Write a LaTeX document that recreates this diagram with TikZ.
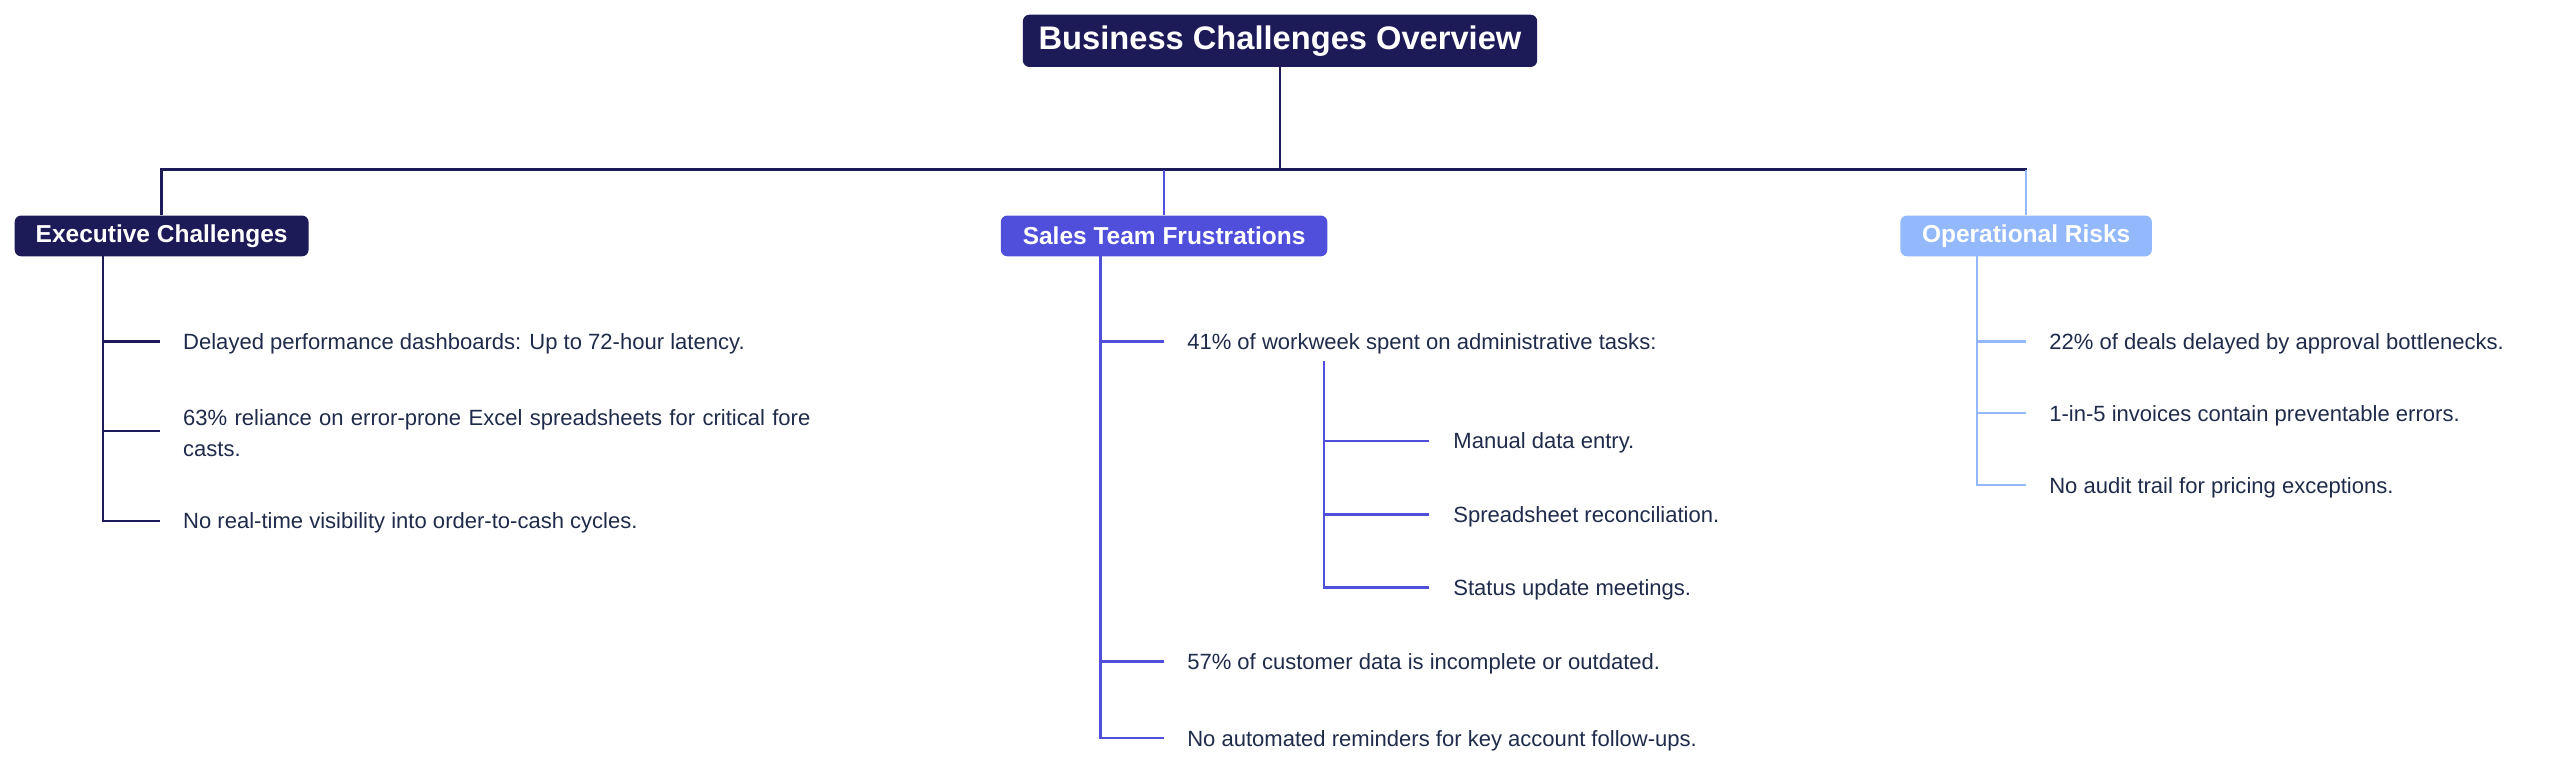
\documentclass[tikz,border=0pt]{standalone}
\usepackage{fontspec}
\setmainfont{Liberation Sans}
\begin{document}
\begin{tikzpicture}[x=1pt,y=-1pt,
  txt/.style={anchor=west,inner sep=0pt,yshift=-1.5pt,text=textc,font=\fontsize{13.5}{19}\selectfont},
  hdr/.style={rounded corners=4pt,text=white,font=\bfseries\fontsize{15}{18}\selectfont,minimum height=25pt,inner xsep=9pt},
  ln/.style={line width=1.6pt}]
\definecolor{navy}{HTML}{1C1A57}
\definecolor{indigo}{HTML}{4F4FDB}
\definecolor{sky}{HTML}{93B8FC}
\definecolor{textc}{HTML}{1F2B4A}
\useasboundingbox (0,0) rectangle (1568,472);
\node[hdr,fill=navy,font=\bfseries\fontsize{20}{23}\selectfont,minimum height=32pt,minimum width=315pt] (root) at (784,25) {Business Challenges Overview};
\node[hdr,fill=navy,minimum width=180pt] (exec) at (99,144.5) {Executive Challenges};
\node[hdr,fill=indigo,minimum width=200pt] (sales) at (713,144.5) {Sales Team Frustrations};
\node[hdr,fill=sky,minimum width=154pt] (ops) at (1241,144.5) {Operational Risks};
\coordinate (bus) at (784,104);
\draw[ln,navy] (root.south) -- (bus);
\draw[ln,navy] (exec.north) |- (bus);
\draw[ln,navy] (bus) -| (ops.north);
\draw[ln,indigo] (sales.north) -- (713,104);
\draw[ln,sky] (ops.north) -- (1241,104);
% exec
\node[txt] (e1) at (112,209) {Delayed performance dashboards: Up to 72-hour latency.};
\node[txt,align=left,text width=420pt] (e2) at (112,264) {63\% reliance on error-prone Excel spreadsheets for critical fore\\casts.};
\node[txt] (e3) at (112,319) {No real-time visibility into order-to-cash cycles.};
\coordinate (es) at (63,157);
\draw[ln,navy] (es) |- (98,319);
\foreach \y in {209,264} \draw[ln,navy] (63,\y) -- (98,\y);
% sales
\node[txt] (s1) at (727,209) {41\% of workweek spent on administrative tasks:};
\node[txt] (s11) at (890,270) {Manual data entry.};
\node[txt] (s12) at (890,315) {Spreadsheet reconciliation.};
\node[txt] (s13) at (890,360) {Status update meetings.};
\node[txt] (s2) at (727,405) {57\% of customer data is incomplete or outdated.};
\node[txt] (s3) at (727,452) {No automated reminders for key account follow-ups.};
\draw[ln,indigo] (674,157) |- (713,452);
\foreach \y in {209,405} \draw[ln,indigo] (674,\y) -- (713,\y);
\draw[ln,indigo] (811,221) |- (875,360);
\foreach \y in {270,315} \draw[ln,indigo] (811,\y) -- (875,\y);
% ops
\node[txt] (o1) at (1255,209) {22\% of deals delayed by approval bottlenecks.};
\node[txt] (o2) at (1255,253) {1-in-5 invoices contain preventable errors.};
\node[txt] (o3) at (1255,297) {No audit trail for pricing exceptions.};
\draw[ln,sky] (1211,157) |- (1241,297);
\foreach \y in {209,253} \draw[ln,sky] (1211,\y) -- (1241,\y);
\end{tikzpicture}
\end{document}
